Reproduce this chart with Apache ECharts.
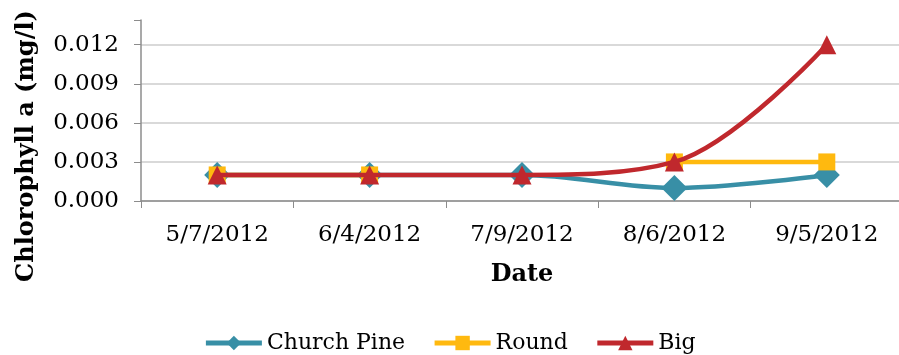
<!DOCTYPE html>
<html>
<head>
<meta charset="utf-8">
<script src="https://cdn.jsdelivr.net/npm/echarts@6/dist/echarts.min.js"></script>
<style>
  html, body { margin: 0; padding: 0; background: #fff; }
  #main { width: 899px; height: 355px; }
</style>
</head>
<body>
<div id="main"></div>
<script>
const dates = ["5/7/2012", "6/4/2012", "7/9/2012", "8/6/2012", "9/5/2012"]
const churchPine = [0.002, 0.002, 0.002, 0.001, 0.002]
const round = [0.002, 0.002, null, 0.003, 0.003]
const big = [0.002, 0.002, 0.002, 0.003, 0.012]

const font = "Georgia, 'DejaVu Serif', serif"
const grey = "#d9d9d9"

var myChart = echarts.init(document.getElementById("main"))

myChart.setOption({
  animation: false,
  textStyle: { fontFamily: font, color: "#000" },
  grid: { left: 141, right: -4, top: 20, bottom: 154, outerBoundsMode: "none", containLabel: false },
  legend: {
    top: 327,
    left: "center",
    itemWidth: 56,
    itemHeight: 18,
    itemGap: 27,
    lineStyle: { width: 5 },
    textStyle: { fontFamily: font, fontSize: 22, color: "#000" },
    data: ["Church Pine", "Round", "Big"]
  },
  // y axis title, centred on the whole chart height like the original
  graphic: [{
    type: "text",
    x: 27,
    y: 146,
    rotation: Math.PI / 2,
    style: {
      text: "Chlorophyll a (mg/l)",
      font: "bold 24px " + font,
      fill: "#000",
      align: "center",
      verticalAlign: "middle"
    }
  }],
  xAxis: {
    type: "category",
    data: dates,
    name: "Date",
    nameLocation: "middle",
    nameGap: 62,
    nameTextStyle: { fontFamily: font, fontSize: 24, fontWeight: "bold", color: "#000" },
    axisLine: { lineStyle: { color: "#8c8c8c", width: 1.5 } },
    axisTick: { show: true, length: 7, lineStyle: { color: "#8c8c8c" } },
    axisLabel: { fontFamily: font, fontSize: 23, color: "#000", margin: 23 }
  },
  yAxis: {
    type: "value",
    min: 0,
    max: 0.0139,
    interval: 0.003,
    axisLine: { show: true, lineStyle: { color: "#8c8c8c", width: 1.5 } },
    axisTick: { show: true, length: 7, lineStyle: { color: "#8c8c8c" } },
    axisLabel: {
      fontFamily: font, fontSize: 23, color: "#000", margin: 22,
      formatter: v => (Math.abs(v / 0.003 - Math.round(v / 0.003)) < 1e-6 ? v.toFixed(3) : "")
    },
    splitLine: { lineStyle: { color: [grey, grey, grey, grey, grey, "rgba(0,0,0,0)"], width: 2 } }
  },
  series: [
    {
      name: "Church Pine",
      type: "line",
      data: churchPine,
      smooth: 0.35,
      symbol: "diamond",
      symbolSize: 26,
      color: "#388fa6",
      lineStyle: { width: 4.5 },
      z: 1
    },
    {
      name: "Round",
      type: "line",
      data: round,
      symbol: "rect",
      symbolSize: 17,
      color: "#ffb90f",
      lineStyle: { width: 4.5 },
      z: 2
    },
    {
      name: "Big",
      type: "line",
      data: big,
      smooth: 0.35,
      symbol: "triangle",
      symbolSize: 19,
      color: "#c0282d",
      lineStyle: { width: 4.5 },
      z: 3
    }
  ]
})
</script>
</body>
</html>
